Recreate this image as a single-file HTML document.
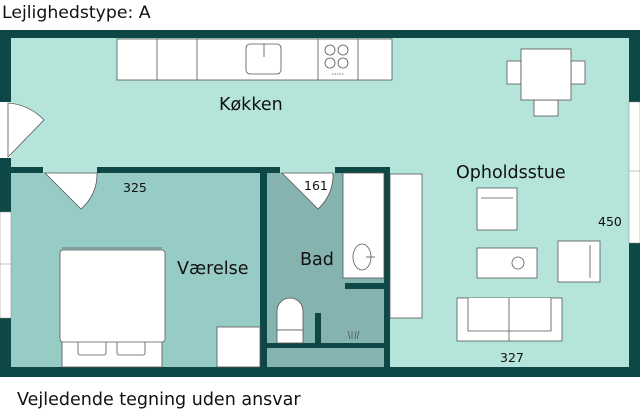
<!DOCTYPE html>
<html><head><meta charset="utf-8"><style>
html,body{margin:0;padding:0;background:#fff;width:640px;height:414px;overflow:hidden}
svg{display:block}
text{font-family:"DejaVu Sans","Liberation Sans",sans-serif;fill:#111}
</style></head><body>
<svg width="640" height="414" viewBox="0 0 640 414" xmlns="http://www.w3.org/2000/svg">
<text x="2" y="18" font-size="17.3">Lejlighedstype: A</text>
<text x="17" y="405" font-size="17.5">Vejledende tegning uden ansvar</text>
<!-- floors -->
<rect x="0" y="30" width="640" height="347" fill="#0e4846"/>
<rect x="11" y="38" width="618" height="329" fill="#b5e4da"/>
<rect x="11" y="173" width="249" height="194" fill="#96ccc5"/>
<rect x="267" y="173" width="117" height="194" fill="#84b3b0"/>
<!-- inner walls -->
<rect x="0" y="167" width="390" height="6" fill="#0e4846"/>
<rect x="260" y="167" width="7" height="200" fill="#0e4846"/>
<rect x="384" y="167" width="6" height="200" fill="#0e4846"/>
<rect x="267" y="343" width="117" height="5" fill="#0e4846"/>
<rect x="345" y="283" width="39" height="6" fill="#0e4846"/>
<rect x="315" y="313" width="6" height="30" fill="#0e4846"/>
<!-- windows / openings -->
<rect x="0" y="102" width="11" height="56" fill="#fff"/>
<rect x="0" y="212" width="11" height="106" fill="#fff" stroke="#888" stroke-width="0.5"/>
<line x1="0" y1="264" x2="11" y2="264" stroke="#888" stroke-width="0.5"/>
<rect x="629" y="102" width="11" height="141" fill="#fff" stroke="#888" stroke-width="0.5"/>
<line x1="629" y1="171" x2="640" y2="171" stroke="#888" stroke-width="0.5"/>
<!-- doors -->
<path d="M8 157 L44 120 A54 54 0 0 0 8 103 Z" fill="#fff" stroke="#555" stroke-width="0.8"/>
<rect x="43" y="167" width="54" height="6" fill="#b5e4da"/>
<path d="M45 173 L81 209 A45 45 0 0 0 97 173 Z" fill="#fff" stroke="#555" stroke-width="0.8"/>
<rect x="280" y="167" width="55" height="6" fill="#b5e4da"/>
<path d="M282 173 L318 209 A45 45 0 0 0 333 173 Z" fill="#fff" stroke="#555" stroke-width="0.8"/>
<!-- kitchen counter -->
<g fill="#fff" stroke="#555" stroke-width="0.8">
<rect x="117" y="39" width="275" height="41"/>
<line x1="157" y1="39" x2="157" y2="80"/><line x1="197" y1="39" x2="197" y2="80"/>
<line x1="318" y1="39" x2="318" y2="80"/><line x1="358" y1="39" x2="358" y2="80"/>
<rect x="246" y="44" width="35" height="30" rx="4"/>
<line x1="264" y1="44" x2="264" y2="57"/>
<circle cx="330" cy="50" r="5"/><circle cx="343" cy="50" r="5"/>
<circle cx="330" cy="63" r="5"/><circle cx="343" cy="63" r="5"/>
<line x1="332" y1="74" x2="344" y2="74" stroke-dasharray="1.5 1"/>
</g>
<!-- dining -->
<g fill="#fff" stroke="#555" stroke-width="0.8">
<rect x="507" y="61" width="14" height="23"/><rect x="571" y="61" width="14" height="23"/>
<rect x="534" y="100" width="24" height="16"/>
<rect x="521" y="49" width="50" height="51"/>
</g>
<!-- living -->
<g fill="#fff" stroke="#555" stroke-width="0.8">
<rect x="477" y="188" width="40" height="42"/><line x1="481" y1="198" x2="513" y2="198"/>
<rect x="477" y="248" width="60" height="30"/><circle cx="518" cy="263" r="6"/>
<rect x="558" y="241" width="42" height="41"/><line x1="590" y1="245" x2="590" y2="278"/>
<rect x="457" y="298" width="105" height="43"/>
<path d="M468 298 V331 H551 V298 M509 298 V341"/>
<rect x="390" y="174" width="32" height="144"/>
</g>
<!-- bedroom -->
<g fill="#fff" stroke="#555" stroke-width="0.8">
<rect x="62" y="338" width="100" height="29"/>
<rect x="78" y="340" width="28" height="15" rx="2"/><rect x="117" y="340" width="28" height="15" rx="2"/>
<rect x="60" y="250" width="105" height="92" rx="3"/>
<line x1="62" y1="248" x2="162" y2="248"/>
<rect x="217" y="327" width="43" height="40"/>
</g>
<!-- bath -->
<g fill="#fff" stroke="#555" stroke-width="0.8">
<rect x="343" y="173" width="41" height="105"/>
<ellipse cx="362" cy="257" rx="9" ry="13" fill="none"/><line x1="366" y1="257" x2="375" y2="257"/>
<path d="M277 330 V311 A13 13 0 0 1 303 311 V330 Z"/><rect x="277" y="330" width="26" height="13"/>
<path d="M350 339 L348 331 M352 339 L352 331 M355 339 L356 331 M357 339 L359 331" fill="none"/>
</g>
<!-- labels -->
<text x="219" y="110" font-size="17.5">Køkken</text>
<text x="177" y="274" font-size="17.5">Værelse</text>
<text x="300" y="265" font-size="17.5">Bad</text>
<text x="456" y="178" font-size="17.5">Opholdsstue</text>
<text x="123" y="192" font-size="12.5">325</text>
<text x="304" y="190" font-size="12.5">161</text>
<text x="598" y="226" font-size="12.5">450</text>
<text x="500" y="362" font-size="12.5">327</text>
</svg>
</body></html>
